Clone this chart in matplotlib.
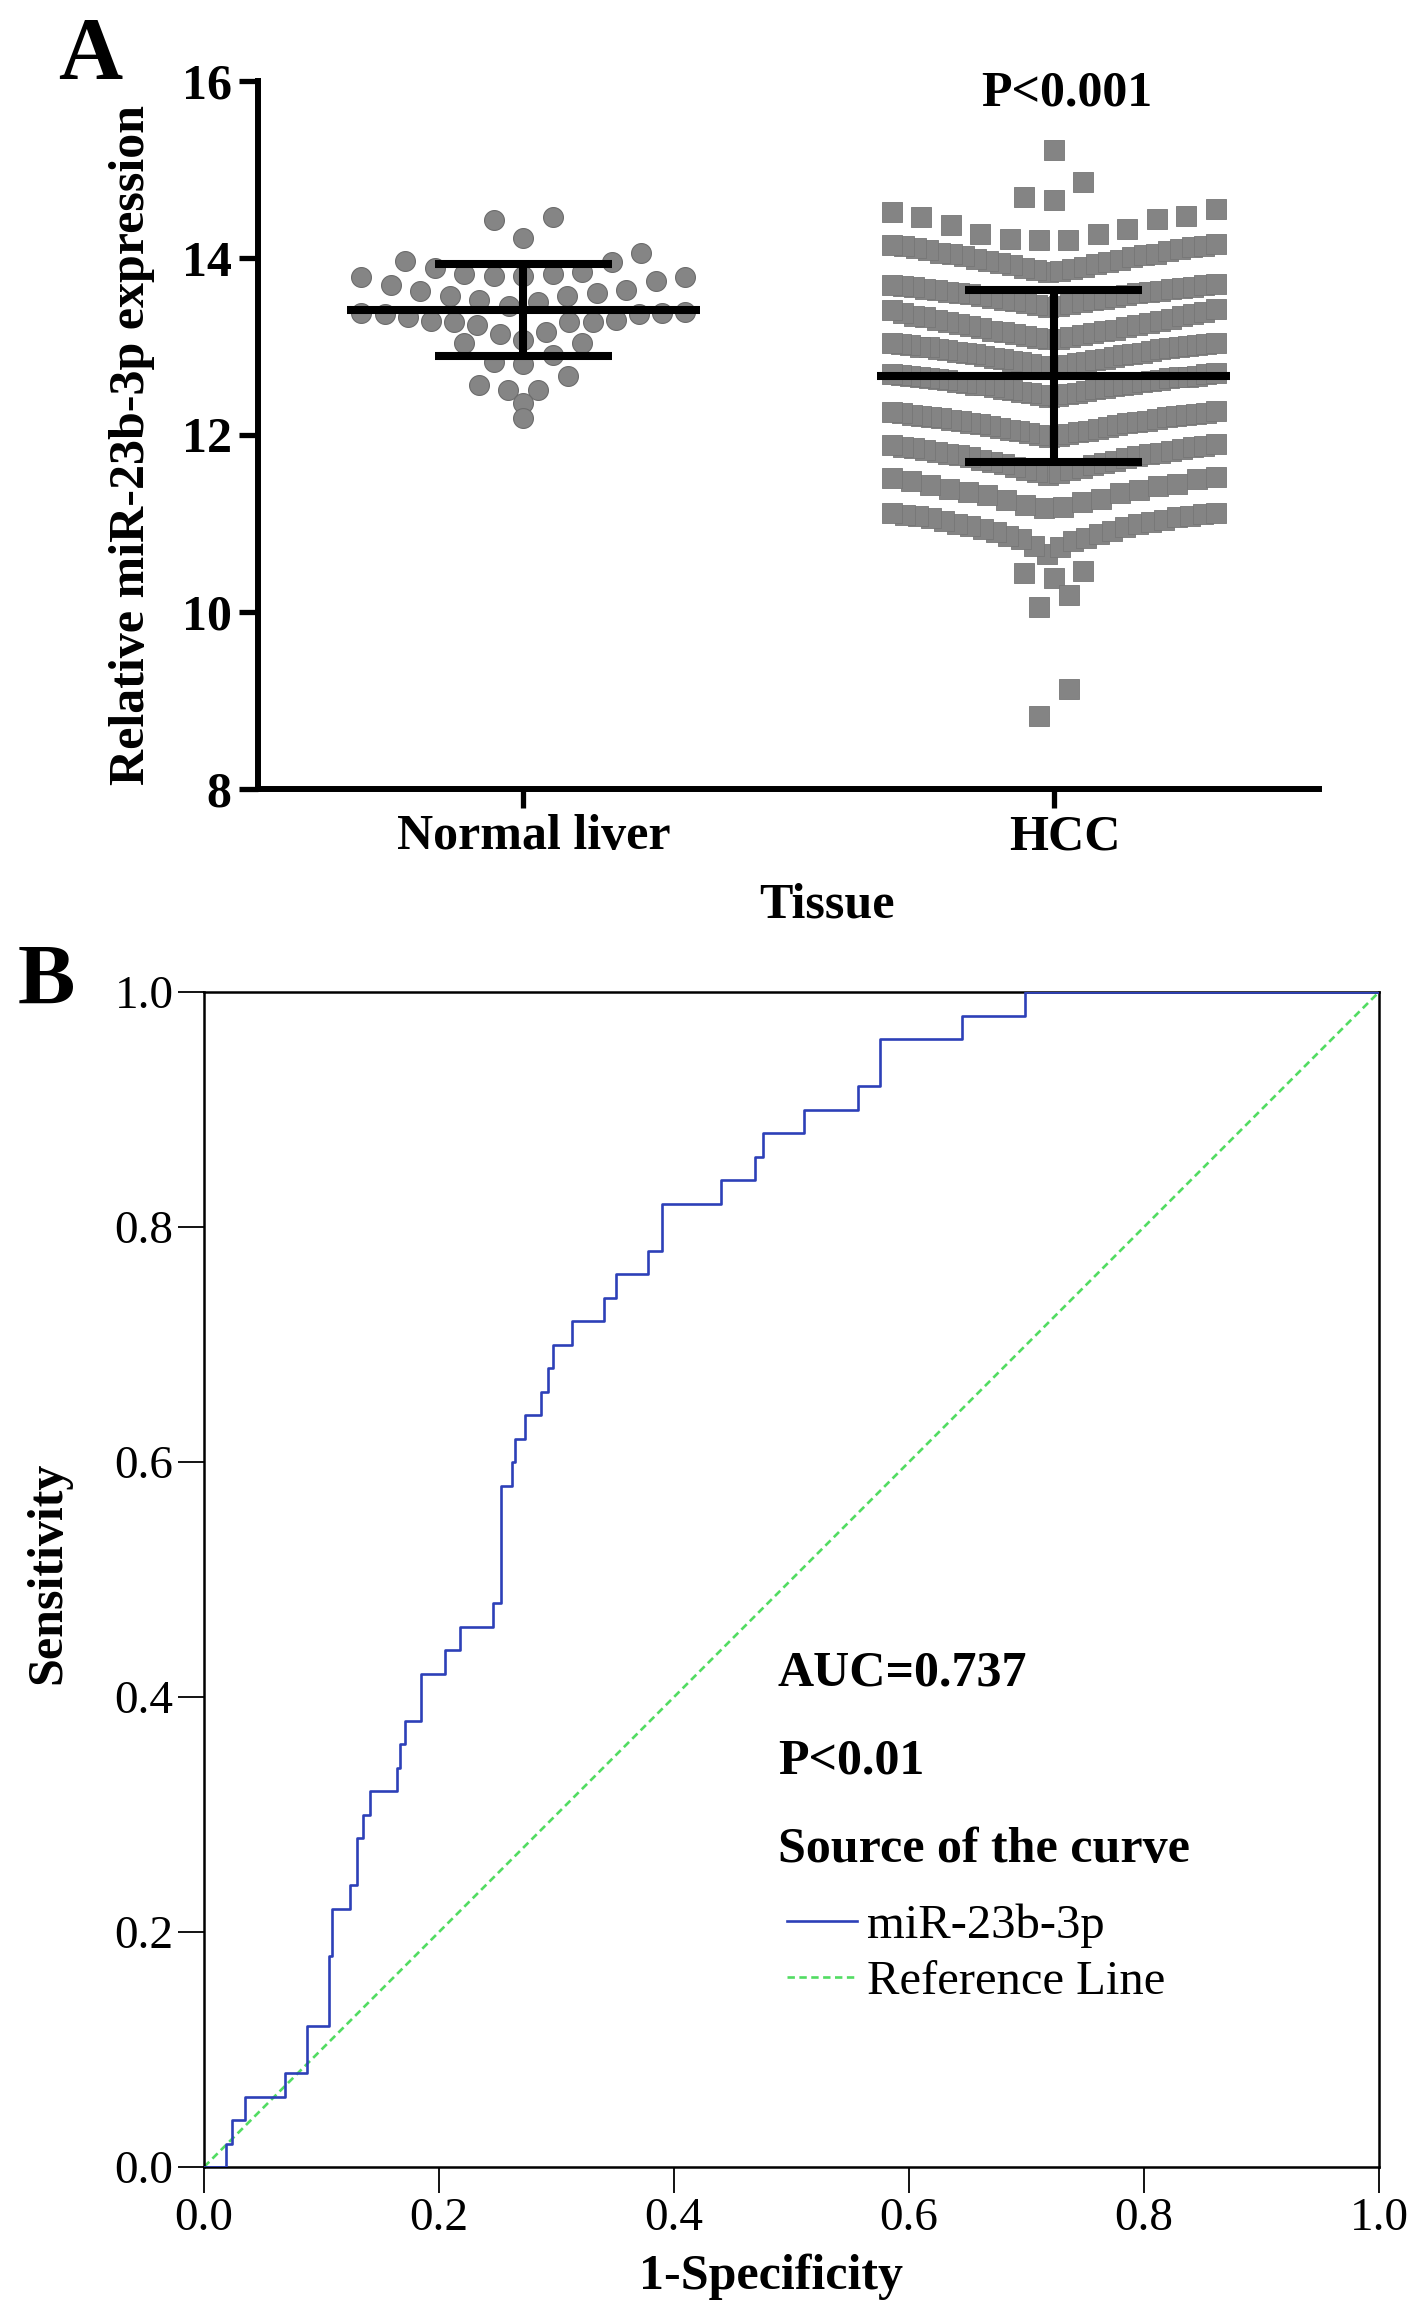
import numpy as np
import matplotlib
matplotlib.use("Agg")
import matplotlib.pyplot as plt
import matplotlib.transforms as mtransforms

plt.rcParams['font.family'] = ['Liberation Serif', 'DejaVu Serif']

# ---- panel A data ----
groups = ["Normal liver", "HCC"]
normal = [14.46, 14.43, 14.23,
          14.06, 13.97, 13.95, 13.89, 13.80, 13.82, 13.84, 13.82, 13.80,
          13.78, 13.78, 13.74, 13.70, 13.64, 13.63, 13.61, 13.57, 13.57, 13.52, 13.50, 13.46,
          13.39, 13.38, 13.38, 13.37, 13.37, 13.33, 13.30, 13.29, 13.28, 13.28, 13.28, 13.24,
          13.16, 13.14, 13.07,
          13.04, 13.04, 12.90, 12.83, 12.80,
          12.67, 12.57, 12.51, 12.51, 12.36, 12.19]
hcc = [15.22,
       14.65, 14.69, 14.86,
       14.20, 14.20, 14.21, 14.27, 14.27, 14.33, 14.37, 14.44, 14.46, 14.48, 14.52, 14.55,
       13.84, 13.85, 13.86, 13.88, 13.89, 13.90, 13.92, 13.93, 13.94, 13.96, 13.97, 13.98, 13.99,
       14.01, 14.02, 14.03, 14.04, 14.05, 14.06, 14.08, 14.09, 14.10, 14.11, 14.12, 14.13, 14.14,
       14.15, 14.16,
       13.45, 13.46, 13.47, 13.48, 13.49, 13.50, 13.51, 13.52, 13.53, 13.54, 13.55, 13.56, 13.57,
       13.58, 13.59, 13.60, 13.61, 13.62, 13.62, 13.63, 13.64, 13.65, 13.65, 13.66, 13.67, 13.67,
       13.68, 13.69, 13.70, 13.71,
       13.08, 13.09, 13.10, 13.11, 13.12, 13.13, 13.14, 13.15, 13.16, 13.17, 13.18, 13.19, 13.21,
       13.22, 13.23, 13.24, 13.25, 13.27, 13.28, 13.29, 13.30, 13.31, 13.33, 13.34, 13.35, 13.37,
       13.38, 13.39, 13.41, 13.42,
       12.76, 12.77, 12.78, 12.79, 12.80, 12.81, 12.82, 12.83, 12.84, 12.85, 12.86, 12.86, 12.87,
       12.88, 12.89, 12.90, 12.91, 12.92, 12.93, 12.93, 12.94, 12.95, 12.96, 12.97, 12.97, 12.98,
       12.99, 13.00, 13.00, 13.01, 13.02, 13.02, 13.03, 13.03, 13.04, 13.04,
       12.43, 12.44, 12.45, 12.46, 12.47, 12.48, 12.49, 12.50, 12.51, 12.52, 12.52, 12.53, 12.54,
       12.55, 12.56, 12.57, 12.57, 12.58, 12.59, 12.60, 12.60, 12.61, 12.62, 12.62, 12.63, 12.64,
       12.64, 12.65, 12.65, 12.66, 12.67, 12.67, 12.68, 12.69, 12.69, 12.70,
       11.98, 11.99, 12.00, 12.01, 12.02, 12.03, 12.04, 12.05, 12.06, 12.07, 12.08, 12.09, 12.10,
       12.11, 12.12, 12.13, 12.14, 12.15, 12.16, 12.16, 12.17, 12.18, 12.19, 12.20, 12.20, 12.21,
       12.22, 12.23, 12.23, 12.24, 12.25, 12.25, 12.26, 12.27,
       11.55, 11.57, 11.58, 11.60, 11.61, 11.63, 11.64, 11.66, 11.67, 11.68, 11.70, 11.71, 11.72,
       11.74, 11.75, 11.76, 11.77, 11.78, 11.79, 11.80, 11.81, 11.82, 11.83, 11.84, 11.85, 11.86,
       11.87, 11.88, 11.89, 11.90,
       11.17, 11.19, 11.21, 11.24, 11.26, 11.28, 11.32, 11.34, 11.36, 11.38, 11.39, 11.42, 11.44,
       11.45, 11.48, 11.50, 11.51, 11.53,
       10.66, 10.74, 10.75, 10.80, 10.82, 10.84, 10.86, 10.88, 10.90, 10.92, 10.94, 10.96, 10.97,
       10.99, 11.00, 11.02, 11.03, 11.04, 11.06, 11.07, 11.08, 11.09, 11.10, 11.11, 11.12, 11.12,
       10.38, 10.44, 10.46,
       10.06, 10.19,
       8.83, 9.13]
group_mean = [13.41, 12.67]
group_sd = [0.52, 0.97]
a_yticks = [8, 10, 12, 14, 16]

# row limits used to stack the points like the original scatter layout
normal_breaks = [12.3, 12.45, 12.75, 13.055, 13.44, 13.80, 14.15]
hcc_breaks = [9.5, 10.3, 10.6, 11.14, 11.54, 11.95, 12.35, 12.72, 13.06, 13.44, 13.78, 14.17, 14.6, 15.0]

# ---- panel B data (ROC corners) ----
roc_fpr = [0.0, 0.019, 0.024, 0.035, 0.069, 0.088, 0.106, 0.109, 0.124, 0.130, 0.135, 0.141,
           0.164, 0.167, 0.171, 0.185, 0.205, 0.218, 0.246, 0.253, 0.262, 0.265, 0.273, 0.287,
           0.293, 0.297, 0.313, 0.340, 0.351, 0.378, 0.390, 0.440, 0.469, 0.476, 0.511, 0.557,
           0.575, 0.645, 0.699, 1.0]
roc_tpr = [0.0, 0.02, 0.04, 0.06, 0.08, 0.12, 0.18, 0.22, 0.24, 0.28, 0.30, 0.32,
           0.34, 0.36, 0.38, 0.42, 0.44, 0.46, 0.48, 0.58, 0.60, 0.62, 0.64, 0.66,
           0.68, 0.70, 0.72, 0.74, 0.76, 0.78, 0.82, 0.84, 0.86, 0.88, 0.90, 0.92,
           0.96, 0.98, 1.00, 1.00]
ref_line = [0.0, 1.0]
b_ticks = [0.0, 0.2, 0.4, 0.6, 0.8, 1.0]


def swarm_x(values, breaks, center, step=0.0557, half=0.305):
    vals = np.asarray(values, float)
    xs = np.zeros_like(vals)
    rows = np.digitize(vals, breaks)
    for r in np.unique(rows):
        idx = np.where(rows == r)[0]
        idx = idx[np.argsort(vals[idx], kind="stable")]
        n = len(idx)
        d = min(step, 2 * half / (n - 1)) if n > 1 else 0.0
        slots = (np.arange(n) - (n - 1) / 2) * d
        order = sorted(range(n), key=lambda k: (abs(slots[k]), slots[k]))
        xs[idx] = center + slots[order]
    return xs


W, H = 1417, 2319
fig = plt.figure(figsize=(W / 100, H / 100), dpi=100)

# ================= panel A =================
axA = fig.add_axes([258 / W, (H - 789) / H, 1061 / W, 708 / H])
xn = swarm_x(normal, normal_breaks, 0)
xh = swarm_x(hcc, hcc_breaks, 1)
axA.scatter(xn, normal, s=205, marker='o', c='#858585', edgecolors='#6c6c6c',
            linewidths=0.8, zorder=2, clip_on=False)
axA.scatter(xh, hcc, s=210, marker='s', c='#848484', edgecolors='#767676',
            linewidths=0.6, zorder=2, clip_on=False)
for i, (m, sd) in enumerate(zip(group_mean, group_sd)):
    axA.hlines(m, i - 0.333, i + 0.333, color='k', lw=5.8, zorder=3)
    axA.vlines(i, m - sd, m + sd, color='k', lw=5.8, zorder=3)
    axA.hlines([m - sd, m + sd], i - 0.167, i + 0.167, color='k', lw=5.8, zorder=3)

axA.set_xlim(-0.5, 1.5)
axA.set_ylim(8, 16)
for side in ['top', 'right']:
    axA.spines[side].set_visible(False)
for side in ['left', 'bottom']:
    axA.spines[side].set_linewidth(4.3)
axA.set_yticks(a_yticks)
axA.set_xticks([0, 1])
axA.set_xticklabels(groups)
axA.tick_params(axis='y', direction='out', length=14, width=3.8, pad=5,
                labelsize=36)
axA.tick_params(axis='x', direction='out', length=14, width=3.8, pad=4,
                labelsize=36)
for lab in axA.get_xticklabels() + axA.get_yticklabels():
    lab.set_fontweight('bold')
offset = mtransforms.ScaledTranslation(0.11, 0, fig.dpi_scale_trans)
for lab in axA.get_xticklabels():
    lab.set_transform(lab.get_transform() + offset)
axA.set_ylabel("Relative miR-23b-3p expression", fontsize=36, fontweight='bold')
axA.yaxis.set_label_coords(-0.097, 0.486)
axA.text(0.536, -0.182, "Tissue", transform=axA.transAxes, ha='center',
         va='baseline', fontsize=36, fontweight='bold')
axA.text(1.025, 15.72, "P<0.001", ha='center', va='baseline', fontsize=36,
         fontweight='bold')
fig.text(58 / W, (H - 78) / H, "A", fontsize=64, fontweight='bold',
         ha='left', va='baseline')

# ================= panel B =================
axB = fig.add_axes([204 / W, (H - 2167) / H, 1175 / W, 1175 / H])
axB.plot(roc_fpr, roc_tpr, drawstyle='steps-post', color='#2d40b8', lw=1.9,
         label='miR-23b-3p', zorder=3)
axB.plot(ref_line, ref_line, color='#52dc62', lw=1.9, ls=(0, (2.8, 1.7)),
         label='Reference Line', zorder=2)
axB.set_xlim(0, 1)
axB.set_ylim(0, 1)
axB.set_xticks(b_ticks)
axB.set_yticks(b_ticks)
axB.set_xticklabels([f"{t:.1f}" for t in b_ticks])
axB.set_yticklabels([f"{t:.1f}" for t in b_ticks])
for side in axB.spines.values():
    side.set_linewidth(1.8)
axB.tick_params(direction='out', length=19, width=1.3, labelsize=34)
axB.tick_params(axis='y', pad=3)
axB.tick_params(axis='x', pad=3)
axB.set_ylabel("Sensitivity", fontsize=36, fontweight='bold')
axB.yaxis.set_label_coords(-0.113, 0.506)
axB.text(0.4826, -0.104, "1-Specificity", transform=axB.transAxes, ha='center',
         va='baseline', fontsize=36, fontweight='bold')
axB.text(0.4885, 0.410, "AUC=0.737", transform=axB.transAxes, fontsize=36,
         fontweight='bold', va='baseline')
axB.text(0.4885, 0.335, "P<0.01", transform=axB.transAxes, fontsize=36,
         fontweight='bold', va='baseline')
axB.text(0.4885, 0.2596, "Source of the curve", transform=axB.transAxes,
         fontsize=36, fontweight='bold', va='baseline')
axB.legend(loc='upper left', bbox_to_anchor=(0.496, 0.224), frameon=False,
           fontsize=35, handlelength=1.45, handletextpad=0.2, labelspacing=0.24,
           borderpad=0, borderaxespad=0)
fig.text(18 / W, (H - 1004) / H, "B", fontsize=62, fontweight='bold',
         ha='left', va='baseline')

fig.savefig("out.png", dpi=100)
